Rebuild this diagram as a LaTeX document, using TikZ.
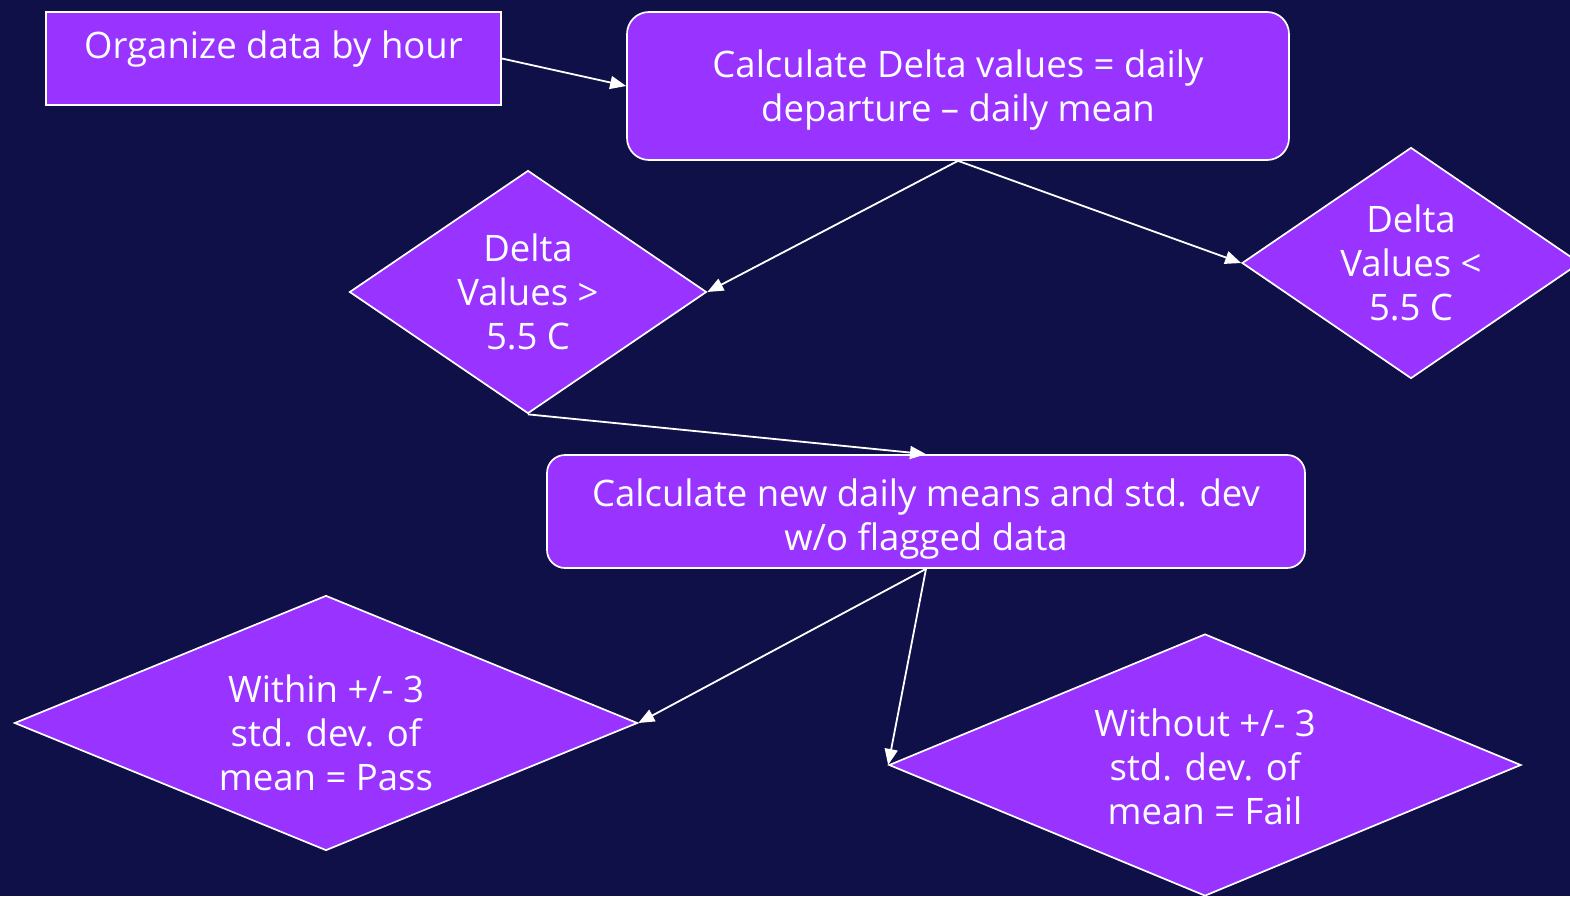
\documentclass[tikz,border=0pt]{standalone}
\usepackage{fontspec}
\setmainfont{Open Sans}
\usetikzlibrary{shapes.geometric,arrows.meta}
\definecolor{bgnavy}{HTML}{0F1047}
\definecolor{boxpurple}{HTML}{9933FF}
\tikzset{
  shapebase/.style={draw=white, line width=1.7pt, fill=boxpurple, inner sep=0pt},
  sqbox/.style={shapebase, rectangle},
  rbox/.style={shapebase, rectangle, rounded corners=22pt},
  dia/.style={shapebase, diamond},
  txt/.style={text=white, align=center, font=\fontsize{36.5}{44}\selectfont, inner sep=0pt},
  flow/.style={draw=white, line width=1.8pt, -{Triangle[length=16pt,width=13pt]}}
}
\begin{document}
\begin{tikzpicture}[x=1pt,y=-1pt]
  % page and background
  \fill[bgnavy] (0,0) rectangle (1570,896);
  \useasboundingbox (0,0) rectangle (1570,896);
  \clip (0,0) rectangle (1570,896);

  % process boxes
  \node[sqbox, minimum width=455pt, minimum height=93pt,
        label={[txt,yshift=9pt]center:Organize data by hour}] (org) at (273.5,58.5) {};
  \node[rbox, minimum width=662pt, minimum height=148pt,
        label={[txt,yshift=-4.5pt]center:Calculate Delta values = daily\\departure – daily mean}] (delta) at (958,86) {};
  \node[rbox, rounded corners=18pt, minimum width=758pt, minimum height=113pt,
        label={[txt,yshift=-7.5pt]center:Calculate new daily means and std. dev\\w/o flagged data}] (newmean) at (926,511.5) {};

  % decision diamonds
  \node[dia, minimum width=357pt, minimum height=243pt,
        label={[txt]center:Delta\\Values >\\5.5 C}] (gt) at (528,292) {};
  \node[dia, minimum width=338pt, minimum height=231pt,
        label={[txt]center:Delta\\Values <\\5.5 C}] (lt) at (1411,263) {};
  \node[dia, minimum width=623pt, minimum height=255pt,
        label={[txt,yshift=-10pt]center:Within +/- 3\\std. dev. of\\mean = Pass}] (pass) at (326,723) {};
  \node[dia, minimum width=632pt, minimum height=262pt,
        label={[txt,yshift=-2pt]center:Without +/- 3\\std. dev. of\\mean = Fail}] (fail) at (1205,765) {};

  % connectors
  \draw[flow] (org.east) -- (delta.west);
  \draw[flow] (delta.south) -- (gt.east);
  \draw[flow] (delta.south) -- (lt.west);
  \draw[flow] (gt.south) -- (newmean.north);
  \draw[flow] (newmean.south) -- (pass.east);
  \draw[flow] (newmean.south) -- (fail.west);
\end{tikzpicture}
\end{document}
